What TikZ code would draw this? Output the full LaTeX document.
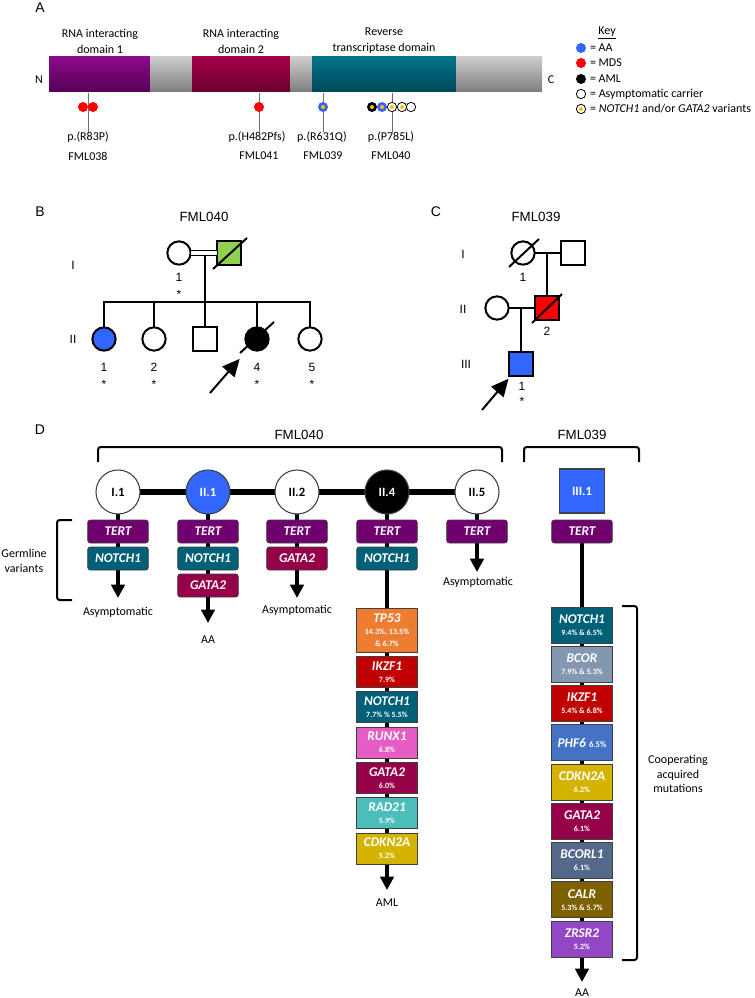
\documentclass[tikz,border=0pt]{standalone}
\usepackage{fontspec}
\setmainfont{Carlito}
\newfontfamily\arialfont{Liberation Sans}
\usepackage{xcolor}
\usepackage{tikz}
\usetikzlibrary{arrows.meta,positioning}

\definecolor{tertc}{RGB}{112,0,112}
\definecolor{notchc}{RGB}{0,96,120}
\definecolor{gatac}{RGB}{150,0,72}
\definecolor{tpc}{RGB}{237,125,49}
\definecolor{ikzc}{RGB}{192,0,0}
\definecolor{runxc}{RGB}{228,92,196}
\definecolor{radc}{RGB}{76,190,186}
\definecolor{cdknc}{RGB}{212,180,0}
\definecolor{bcorc}{RGB}{132,151,176}
\definecolor{phfc}{RGB}{68,114,196}
\definecolor{bcorlc}{RGB}{84,104,138}
\definecolor{calrc}{RGB}{127,96,0}
\definecolor{zrsrc}{RGB}{146,72,196}
\definecolor{aablue}{RGB}{51,102,255}
\definecolor{mdsred}{RGB}{255,0,0}
\definecolor{carrgreen}{RGB}{146,208,80}
\definecolor{varyel}{RGB}{255,192,0}
\definecolor{boxline}{RGB}{64,64,64}
\definecolor{stemgray}{RGB}{110,110,110}

\pgfdeclarelayer{bg}
\pgfsetlayers{bg,main}

\newcommand{\pct}[1]{\\[-1.5pt]{\upshape\fontsize{6}{6.5}\selectfont#1}}

\begin{document}
\begin{tikzpicture}[x=0.75pt, y=-0.75pt,
	lbl/.style={font=\fontsize{9}{11}\selectfont, align=center, inner sep=0, outer sep=0},
	keytxt/.style={lbl, anchor=west},
	letter/.style={font=\arialfont\fontsize{10.5}{12}\selectfont, inner sep=0},
	fam/.style={font=\arialfont\fontsize{10}{12}\selectfont, inner sep=0},
	ped/.style={font=\arialfont\fontsize{9}{10}\selectfont, inner sep=0},
	pf/.style={circle, draw, line width=1.5pt, minimum size=17.5pt, inner sep=0, outer sep=0, fill=white},
	pm/.style={rectangle, draw, line width=1.5pt, minimum size=17.5pt, inner sep=0, outer sep=0, fill=white},
	pline/.style={line width=1.5pt},
	proband/.style={line width=1.5pt, -{Triangle[width=12pt,length=13pt]}},
	stem/.style={draw=stemgray, line width=0.75pt},
	lolly/.style={circle, fill=#1, minimum size=7.5pt, inner sep=0, outer sep=0},
	carrier/.style={circle, draw, line width=0.6pt, fill=white, minimum size=7pt, inner sep=0, outer sep=0},
	dot/.style={circle, fill=varyel, minimum size=3pt, inner sep=0},
	gene/.style={rectangle, draw=boxline, line width=0.6pt, text=white, inner sep=0, outer sep=0,
		minimum width=45.5pt, align=center, font=\bfseries\itshape\fontsize{10}{10.5}\selectfont},
	germ/.style={gene, rounded corners=2pt, minimum height=17.25pt},
	acq/.style={gene, minimum height=23.25pt},
	acqb/.style={gene, minimum height=27pt},
	pcirc/.style={circle, draw=boxline, line width=0.8pt, minimum size=33pt, inner sep=0, outer sep=0,
		font=\bfseries\fontsize{9.5}{10}\selectfont},
	psq/.style={rectangle, draw=boxline, line width=0.8pt, minimum width=33.75pt, minimum height=33pt,
		inner sep=0, outer sep=0, font=\bfseries\fontsize{9.5}{10}\selectfont},
	chain/.style={line width=3pt},
	outcome/.style={line width=3pt, -{Triangle[width=10pt,length=10pt]}},
	brk/.style={line width=1.5pt, rounded corners=2pt}]

\useasboundingbox (0,0) rectangle (755,998);

% ---- A: protein
\node[letter] (la) at (40,8) {A};
\shade[top color={rgb,255:red,140;green,10;blue,140}, bottom color={rgb,255:red,85;green,0;blue,85}] (49,57) rectangle (150,92);
\shade[top color={rgb,255:red,205;green,205;blue,205}, bottom color={rgb,255:red,125;green,125;blue,125}] (150,57) rectangle (192,92);
\shade[top color={rgb,255:red,165;green,0;blue,75}, bottom color={rgb,255:red,105;green,0;blue,45}] (192,57) rectangle (290,92);
\shade[top color={rgb,255:red,205;green,205;blue,205}, bottom color={rgb,255:red,125;green,125;blue,125}] (290,57) rectangle (312,92);
\shade[top color={rgb,255:red,0;green,115;blue,135}, bottom color={rgb,255:red,0;green,72;blue,90}] (312,57) rectangle (456,92);
\shade[top color={rgb,255:red,205;green,205;blue,205}, bottom color={rgb,255:red,125;green,125;blue,125}] (456,57) rectangle (542,92);
\node[lbl] (nterm) at (39,80) {N};
\node[lbl] (cterm) at (551,80) {C};
\node[lbl, font=\fontsize{9}{12}\selectfont] (dom1) at (100,41) {RNA interacting\\domain 1};
\node[lbl, font=\fontsize{9}{12}\selectfont] (dom2) at (241,41) {RNA interacting\\domain 2};
\node[lbl, font=\fontsize{9}{12}\selectfont] (dom3) at (384,41) {Reverse\\transcriptase domain};

% variants
\node[lbl] (p1) at (88,137) {p.(R83P)};
\node[lbl] (f1) at (88,156) {FML038};
\node[lbl] (p2) at (257,137) {p.(H482Pfs)};
\node[lbl] (f2) at (259,156) {FML041};
\node[lbl] (p3) at (322,137) {p.(R631Q)};
\node[lbl] (f3) at (323,156) {FML039};
\node[lbl] (p4) at (391,137) {p.(P785L)};
\node[lbl] (f4) at (391,156) {FML040};
\coordinate (s1) at (88,93);
\coordinate (s2) at (259,93);
\coordinate (s3) at (323,93);
\coordinate (s4) at (392,93);
\draw[stem] (s1) -- (s1 |- p1.north);
\draw[stem] (s2) -- (s2 |- p2.north);
\draw[stem] (s3) -- (s3 |- p3.north);
\draw[stem] (s4) -- (s4 |- p4.north);
\node[lolly=mdsred] (v1a) at (83,107) {};
\node[lolly=mdsred] (v1b) at (93,107) {};
\node[lolly=mdsred] (v2) at (259,107) {};
\node[lolly=aablue] (v3) at (323,107) {};
\node[dot] at (v3) {};
\node[lolly=black] (v4a) at (372,107) {};
\node[dot] at (v4a) {};
\node[lolly=aablue] (v4b) at (382,107) {};
\node[dot] at (v4b) {};
\node[carrier] (v4c) at (392,107) {};
\node[dot] at (v4c) {};
\node[carrier] (v4d) at (402,107) {};
\node[dot] at (v4d) {};
\node[carrier] (v4e) at (411,107) {};

% key
\node[lbl] (keyh) at (607,33) {\underline{Key}};
\node[lolly=aablue] (k1) at (581,48) {};
\node[lolly=mdsred] (k2) at (581,63) {};
\node[lolly=black] (k3) at (581,79) {};
\node[carrier] (k4) at (581,94) {};
\node[carrier] (k5) at (581,109) {};
\node[dot] at (k5) {};
\node[keytxt, right=3pt of k1] (kt1) {= AA};
\node[keytxt, right=3pt of k2] (kt2) {= MDS};
\node[keytxt, right=3pt of k3] (kt3) {= AML};
\node[keytxt, right=3.3pt of k4] (kt4) {= Asymptomatic carrier};
\node[keytxt, right=3.3pt of k5] (kt5) {= \textit{NOTCH1} and/or \textit{GATA2} variants};

% ---- B: FML040 pedigree
\node[letter] (lb) at (40,212) {B};
\node[fam] (fb) at (204,217) {FML040};
\node[ped] (gb1) at (73,265) {I};
\node[ped] (gb2) at (73,339) {II};
\node[pf] (b-I1) at (179,253) {};
\node[pm, fill=carrgreen] (b-I2) at (229,253) {};
\draw[pline] ([shift={(-16,16)}]b-I2.center) -- ([shift={(18,-15)}]b-I2.center);
\draw[line width=1.1pt, double, double distance=2.4pt] (b-I1) -- (b-I2);
\coordinate (b-mid) at (205,255);
\coordinate (b-sib) at (205,302);
\node[pf, fill=aablue] (b-II1) at (104,339) {};
\node[pf] (b-II2) at (154,339) {};
\node[pm] (b-II3) at (205,339) {};
\node[pf, fill=black] (b-II4) at (257,339) {};
\node[pf] (b-II5) at (310,339) {};
\draw[pline] (b-mid) -- (b-sib);
\draw[pline] (b-II1.north) |- (b-sib) -| (b-II5.north);
\draw[pline] (b-II2.north) -- (b-II2 |- b-sib);
\draw[pline] (b-II3.north) -- (b-sib);
\draw[pline] (b-II4.north) -- (b-II4 |- b-sib);
\draw[pline] ([shift={(-17,14)}]b-II4.center) -- ([shift={(17,-17)}]b-II4.center);
\coordinate (b-tail) at (210,393);
\draw[proband, shorten >=11pt] (b-tail) -- (b-II4);
\node[ped] at (179,277) {1};
\node[ped] at (179,294) {*};
\node[ped] at (104,367) {1};
\node[ped] at (104,384) {*};
\node[ped] at (154,367) {2};
\node[ped] at (154,384) {*};
\node[ped] at (257,367) {4};
\node[ped] at (257,384) {*};
\node[ped] at (312,367) {5};
\node[ped] at (312,384) {*};

% ---- C: FML039 pedigree
\node[letter] (lc) at (436,212) {C};
\node[fam] (fc) at (536,217) {FML039};
\node[ped] (gc1) at (463,254) {I};
\node[ped] (gc2) at (463,309) {II};
\node[ped] (gc3) at (466,364) {III};
\node[pf] (c-I1) at (523,253) {};
\node[pm] (c-I2) at (573,253) {};
\node[pf] (c-II1) at (497,308) {};
\node[pm, fill=mdsred] (c-II2) at (547,308) {};
\node[pm, fill=aablue] (c-III1) at (521,364) {};
\draw[pline] (c-I1) -- (c-I2);
\draw[pline] (c-II2 |- c-I1) -- (c-II2.north);
\draw[pline] (c-II1) -- (c-II2);
\draw[pline] (c-III1 |- c-II1) -- (c-III1.north);
\draw[pline] ([shift={(-14,14)}]c-I1.center) -- ([shift={(16,-14)}]c-I1.center);
\draw[pline] ([shift={(-15,15)}]c-II2.center) -- ([shift={(15,-14)}]c-II2.center);
\coordinate (c-tail) at (482,410);
\draw[proband, shorten >=3pt] (c-tail) -- (c-III1);
\node[ped] at (523,277) {1};
\node[ped] at (547,331) {2};
\node[ped] at (522,386) {1};
\node[ped] at (522,401) {*};

% ---- D: germline and acquired variants
\node[letter] (ld) at (40,430) {D};
\node[fam] (fd1) at (299,435) {FML040};
\node[fam] (fd2) at (582,435) {FML039};
\draw[brk] (98,462) |- (502,447) -- (502,462);
\draw[brk] (524,462) |- (639,447) -- (639,462);
\draw[brk] (72,520) -- (57,520) -- (57,600) -- (72,600);
\draw[brk] (622,606) -- (637,606) -- (637,960) -- (622,960);
\node[lbl] (germ-l) at (24,561) {Germline\\variants};
\node[lbl] (coop-l) at (678,774) {Cooperating\\acquired\\mutations};

\node[pcirc, fill=white] (d-I1) at (118,492) {I.1};
\node[pcirc, fill=aablue, text=white] (d-II1) at (208,492) {II.1};
\node[pcirc, fill=white] (d-II2) at (297,492) {II.2};
\node[pcirc, fill=black, text=white] (d-II4) at (387,492) {II.4};
\node[pcirc, fill=white] (d-II5) at (477,492) {II.5};
\node[psq, fill=aablue, text=white] (d-III1) at (582,491) {III.1};

\node[germ, fill=tertc] (d-I1-a) at (118,531.5) {TERT};
\node[germ, fill=notchc, below=3pt of d-I1-a] (d-I1-b) {NOTCH1};
\node[germ, fill=tertc] (d-II1-a) at (208,531.5) {TERT};
\node[germ, fill=notchc, below=3pt of d-II1-a] (d-II1-b) {NOTCH1};
\node[germ, fill=gatac, below=3pt of d-II1-b] (d-II1-c) {GATA2};
\node[germ, fill=tertc] (d-II2-a) at (297,531.5) {TERT};
\node[germ, fill=gatac, below=3pt of d-II2-a] (d-II2-b) {GATA2};
\node[germ, fill=tertc] (d-II4-a) at (387,531.5) {TERT};
\node[germ, fill=notchc, below=3pt of d-II4-a] (d-II4-b) {NOTCH1};
\node[germ, fill=tertc] (d-II5-a) at (477,531.5) {TERT};
\node[germ, fill=tertc] (d-III1-a) at (582,531.5) {TERT};

\node[acq, fill=tpc, minimum height=33pt, below=28.5pt of d-II4-b] (d-II4-1) {TP53\pct{14.3\%, 13.5\%}\pct{\& 6.7\%}};
\node[acq, fill=ikzc, below=3.25pt of d-II4-1] (d-II4-2) {IKZF1\pct{7.9\%}};
\node[acq, fill=notchc, below=3.25pt of d-II4-2] (d-II4-3) {NOTCH1\pct{7.7\% \% 5.5\%}};
\node[acq, fill=runxc, below=3.25pt of d-II4-3] (d-II4-4) {RUNX1\pct{6.8\%}};
\node[acq, fill=gatac, below=3.25pt of d-II4-4] (d-II4-5) {GATA2\pct{6.0\%}};
\node[acq, fill=radc, below=3.25pt of d-II4-5] (d-II4-6) {RAD21\pct{5.9\%}};
\node[acq, fill=cdknc, below=3.25pt of d-II4-6] (d-II4-7) {CDKN2A\pct{5.2\%}};

\node[acqb, fill=notchc, below=48pt of d-III1-a] (d-III1-1) {NOTCH1\pct{9.4\% \& 6.5\%}};
\node[acqb, fill=bcorc, below=2.45pt of d-III1-1] (d-III1-2) {BCOR\pct{7.9\% \& 5.3\%}};
\node[acqb, fill=ikzc, below=2.45pt of d-III1-2] (d-III1-3) {IKZF1\pct{5.4\% \& 6.8\%}};
\node[acqb, fill=phfc, below=2.45pt of d-III1-3] (d-III1-4) {PHF6 {\upshape\fontsize{6.5}{7}\selectfont 6.5\%}};
\node[acqb, fill=cdknc, below=2.45pt of d-III1-4] (d-III1-5) {CDKN2A\pct{6.2\%}};
\node[acqb, fill=gatac, below=2.45pt of d-III1-5] (d-III1-6) {GATA2\pct{6.1\%}};
\node[acqb, fill=bcorlc, below=2.45pt of d-III1-6] (d-III1-7) {BCORL1\pct{6.1\%}};
\node[acqb, fill=calrc, below=2.45pt of d-III1-7] (d-III1-8) {CALR\pct{5.3\% \& 5.7\%}};
\node[acqb, fill=zrsrc, below=2.45pt of d-III1-8] (d-III1-9) {ZRSR2\pct{5.2\%}};

\coordinate (d-I1-tip) at (118,598);
\coordinate (d-II1-tip) at (208,623);
\coordinate (d-II2-tip) at (297,598);
\coordinate (d-II4-tip) at (387,890);
\coordinate (d-II5-tip) at (477,572);
\coordinate (d-III1-tip) at (582,982);
\node[lbl] (o-I1) at (118,612) {Asymptomatic};
\node[lbl] (o-II1) at (208,640) {AA};
\node[lbl] (o-II2) at (297,610) {Asymptomatic};
\node[lbl] (o-II4) at (387,903) {AML};
\node[lbl] (o-II5) at (478,582) {Asymptomatic};
\node[lbl] (o-III1) at (582,993) {AA};

\begin{pgfonlayer}{bg}
\draw[line width=4pt] (d-I1) -- (d-II5);
\draw[chain] (d-I1.center) -- (d-I1-b.center);
\draw[chain] (d-II1.center) -- (d-II1-c.center);
\draw[chain] (d-II2.center) -- (d-II2-b.center);
\draw[chain] (d-II4.center) -- (d-II4-7.center);
\draw[chain] (d-II5.center) -- (d-II5-a.center);
\draw[chain] (d-III1-a.center) -- (d-III1-9.center);
\draw[outcome] (d-I1-b.south) -- (d-I1-tip);
\draw[outcome] (d-II1-c.south) -- (d-II1-tip);
\draw[outcome] (d-II2-b.south) -- (d-II2-tip);
\draw[outcome] (d-II4-7.south) -- (d-II4-tip);
\draw[outcome] (d-II5-a.south) -- (d-II5-tip);
\draw[outcome] (d-III1-9.south) -- (d-III1-tip);
\end{pgfonlayer}
\end{tikzpicture}
\end{document}
